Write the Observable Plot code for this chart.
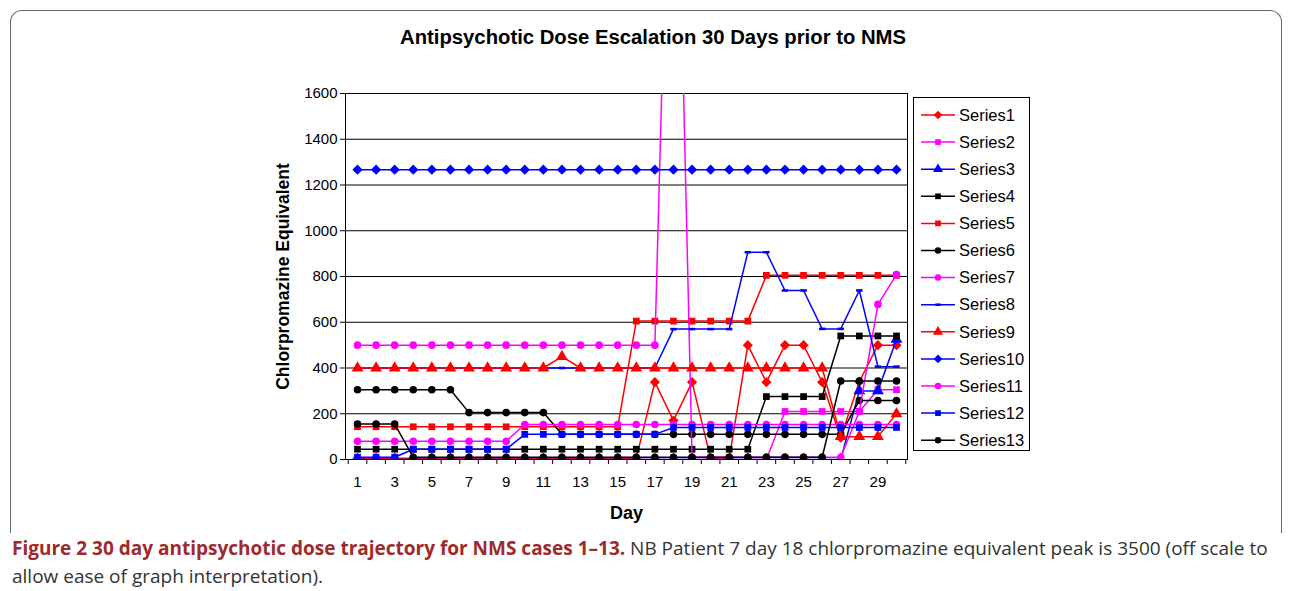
<!DOCTYPE html>
<html>
<head>
<meta charset="utf-8">
<script src="https://cdn.jsdelivr.net/npm/d3@7"></script>
<script src="https://cdn.jsdelivr.net/npm/@observablehq/plot@0.6"></script>
<style>
  html, body { margin: 0; padding: 0; background: #fff; }
  body { width: 1292px; height: 591px; position: relative; overflow: hidden; font-family: "Liberation Sans", Arial, sans-serif; }
  #frame { position: absolute; left: 10px; top: 10px; width: 1270px; height: 522px; border: 1.5px solid #666; border-bottom: none; border-radius: 12px 12px 0 0; }
  #chart { position: absolute; left: 0; top: 0; }
  #title { position: absolute; left: 0; width: 1306px; top: 26px; text-align: center; font: bold 20.3px "Liberation Sans", Arial, sans-serif; color: #000; }
  #legend { position: absolute; left: 913px; top: 97px; width: 115px; height: 352px; border: 1px solid #000; background: #fff; }
  #caption { position: absolute; left: 12px; top: 534px; width: 1276px; font: 19px "Open Sans", sans-serif; line-height: 28px; color: #333; }
  #caption div { white-space: nowrap; }
  #caption b { color: #9e2a2b; }
</style>
</head>
<body>
<div id="frame"></div>
<div id="chart"></div>
<div id="title">Antipsychotic Dose Escalation 30 Days prior to NMS</div>
<div id="legend"></div>
<div id="caption"><div><b>Figure 2 30 day antipsychotic dose trajectory for NMS cases 1–13.</b> <span>NB Patient 7 day 18 chlorpromazine equivalent peak is 3500 (off scale to</span></div><div>allow ease of graph interpretation).</div></div>
<script>
// ---- data ----
const days = [1,2,3,4,5,6,7,8,9,10,11,12,13,14,15,16,17,18,19,20,21,22,23,24,25,26,27,28,29,30];
const xTickLabels = [1,3,5,7,9,11,13,15,17,19,21,23,25,27,29];
const yTicks = [0,200,400,600,800,1000,1200,1400,1600];
const seriesNames = ["Series1","Series2","Series3","Series4","Series5","Series6","Series7","Series8","Series9","Series10","Series11","Series12","Series13"];

const series1  = [5,5,5,5,5,5,5,5,5,5,5,5,5,5,5,5,338,170,338,5,5,500,338,500,500,338,95,340,500,500];
const series2  = [0,0,0,0,0,0,0,0,0,0,0,0,0,0,0,0,0,0,0,0,0,0,0,210,210,210,210,210,305,305];
const series3  = [0,0,0,0,0,0,0,0,0,0,0,0,0,0,0,0,0,0,0,0,0,0,0,0,0,0,0,300,300,525];
const series4  = [45,45,45,45,45,45,45,45,45,45,45,45,45,45,45,45,45,45,45,45,45,45,275,275,275,275,540,540,540,540];
const series5  = [143,143,143,143,143,143,143,143,143,143,143,143,143,143,143,605,605,605,605,605,605,605,805,805,805,805,805,805,805,805];
const series6  = [305,305,305,305,305,305,205,205,205,205,205,110,110,110,110,110,110,110,110,110,110,110,110,110,110,110,110,258,258,258];
const series7  = [500,500,500,500,500,500,500,500,500,500,500,500,500,500,500,500,500,3500,10,10,10,10,10,10,10,10,10,210,678,808];
const series8  = [400,400,400,400,400,400,400,400,400,400,400,400,400,400,400,400,400,570,570,570,570,906,906,739,739,571,571,739,406,406];
const series9  = [400,400,400,400,400,400,400,400,400,400,400,450,400,400,400,400,400,400,400,400,400,400,400,400,400,400,100,100,100,200];
const series10 = [1267,1267,1267,1267,1267,1267,1267,1267,1267,1267,1267,1267,1267,1267,1267,1267,1267,1267,1267,1267,1267,1267,1267,1267,1267,1267,1267,1267,1267,1267];
const series11 = [80,80,80,80,80,80,80,80,80,153,153,153,153,153,153,153,153,153,153,153,153,153,153,153,153,153,153,153,153,153];
const series12 = [10,10,10,45,45,45,45,45,45,110,110,110,110,110,110,110,110,140,140,140,140,140,140,140,140,140,140,140,140,140];
const series13 = [155,155,155,10,10,10,10,10,10,10,10,10,10,10,10,10,10,10,10,10,10,10,10,10,10,10,343,343,343,343];

const seriesValues = [series1,series2,series3,series4,series5,series6,series7,series8,series9,series10,series11,series12,series13];
const seriesColors = ["#ff0000","#ff00ff","#0000ff","#000000","#ff0000","#000000","#ff00ff","#0000ff","#ff0000","#0000ff","#ff00ff","#0000ff","#000000"];

const dash = { draw(ctx, size) { const w = Math.sqrt(size) * 0.45; ctx.rect(-w, -1.3, 2 * w, 2.6); } };
const seriesSymbols = ["diamond2","square","triangle","square","square","circle","circle",dash,"triangle","diamond2","circle","square","circle"];
const seriesR = [4.6,3.8,4.4,3.8,3.8,3.8,3.8,4,4.4,4.6,3.8,3.8,3.8];

// ---- table ----
const rows = [];
seriesNames.forEach((name, i) => {
  seriesValues[i].forEach((v, j) => rows.push({series: name, idx: i, day: days[j], value: v}));
});

const marks = [
  Plot.gridY(yTicks, {stroke: "#000", strokeOpacity: 1, strokeWidth: 1}),
  Plot.frame({stroke: "#000", strokeWidth: 1})
];
seriesNames.forEach((name, i) => {
  const d = rows.filter(r => r.idx === i);
  marks.push(Plot.line(d, {x: "day", y: "value", stroke: seriesColors[i], strokeWidth: 1.5, clip: true}));
  marks.push(Plot.dot(d, {x: "day", y: "value", fill: seriesColors[i], stroke: "none", symbol: seriesSymbols[i], r: seriesR[i], clip: true}));
});

const halfTicks = days.map(d => d + 0.5).concat([0.5]);
marks.push(
  Plot.axisY(yTicks, {tickSize: 5, tickPadding: 3, fontSize: 15, label: null, tickFormat: d => String(d)}),
  Plot.axisX(halfTicks, {tickSize: 5, tickFormat: () => "", label: null}),
  Plot.axisX(xTickLabels, {tickSize: 0, tickPadding: 17, fontSize: 15, label: null, tickFormat: d => String(d)}),
  Plot.text(["Chlorpromazine Equivalent"], {frameAnchor: "left", dx: -62, rotate: -90, textAnchor: "middle", fontWeight: "bold", fontSize: 17.5, lineAnchor: "middle", fill: "#000"}),
  Plot.text(["Day"], {frameAnchor: "bottom", dy: 54, textAnchor: "middle", fontWeight: "bold", fontSize: 18, lineAnchor: "middle", fill: "#000"})
);

const chart = Plot.plot({
  width: 1292,
  height: 530,
  marginLeft: 345,
  marginRight: 385,
  marginTop: 93,
  marginBottom: 71,
  style: {fontFamily: "'Liberation Sans', Arial, sans-serif", color: "#000", background: "transparent", overflow: "visible"},
  x: {domain: [0.3544, 30.592], axis: null},
  y: {domain: [0, 1600], axis: null},
  marks
});
document.getElementById("chart").appendChild(chart);

// ---- legend ----
const legend = d3.select("#legend").append("svg").attr("width", 115).attr("height", 352);
seriesNames.forEach((name, i) => {
  const cy = 17 + i * 27.1;
  const g = legend.append("g").attr("transform", `translate(0,${cy})`);
  g.append("line").attr("x1", 7).attr("x2", 41).attr("y1", 0).attr("y2", 0).attr("stroke", seriesColors[i]).attr("stroke-width", 1.5);
  const sym = seriesSymbols[i];
  const symType = typeof sym === "string" ? {circle: d3.symbolCircle, square: d3.symbolSquare, triangle: d3.symbolTriangle, diamond2: d3.symbolDiamond2}[sym] : sym;
  const r = seriesR[i] * 0.85;
  g.append("path").attr("transform", "translate(24,0)").attr("d", d3.symbol(symType, Math.PI * r * r)()).attr("fill", seriesColors[i]);
  g.append("text").attr("x", 45).attr("y", 0).attr("dy", "0.35em").attr("font-size", 16.5).attr("font-family", "'Liberation Sans', Arial, sans-serif").text(name);
});
</script>
</body>
</html>
